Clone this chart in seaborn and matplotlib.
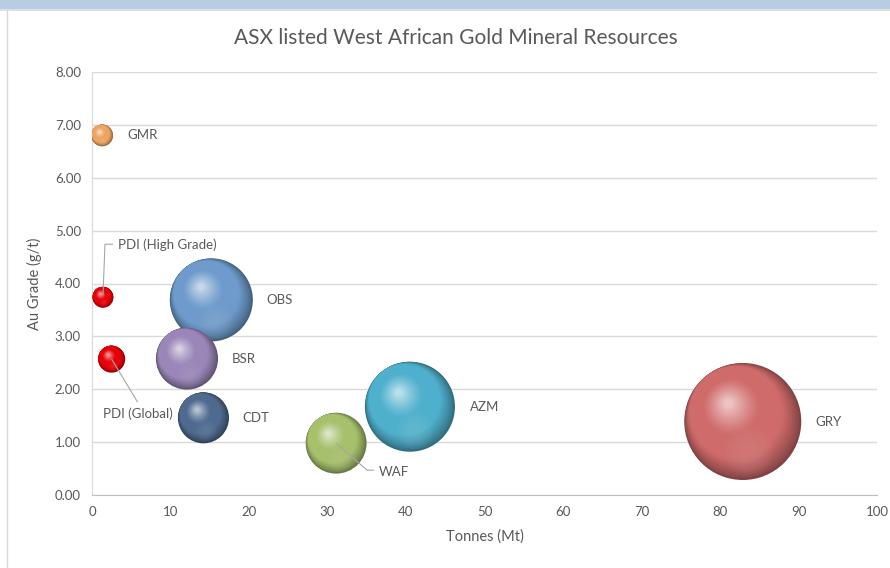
import numpy as np
import pandas as pd
import matplotlib
matplotlib.use("Agg")
import matplotlib.pyplot as plt
from matplotlib import transforms, colors as mcolors
from matplotlib.lines import Line2D
from matplotlib.patches import Rectangle
import seaborn as sns

# ---------------- data ----------------
companies = ["GMR", "PDI (High Grade)", "PDI (Global)", "OBS", "BSR", "CDT", "WAF", "AZM", "GRY"]
tonnes_mt = [1.3, 1.4, 2.5, 15.2, 12.1, 14.2, 31.1, 40.5, 82.9]
grade_gt = [6.80, 3.74, 2.57, 3.69, 2.58, 1.46, 0.98, 1.67, 1.39]
ounces_moz = [0.13, 0.12, 0.20, 1.88, 1.05, 0.71, 1.01, 2.21, 3.73]

title = "ASX listed West African Gold Mineral Resources"
x_label = "Tonnes (Mt)"
y_label = "Au Grade (g/t)"

# ---------------- styles ----------------
color_map = {"GMR": "#eea35f", "PDI (High Grade)": "#e60008", "PDI (Global)": "#e60008",
             "OBS": "#6e9bcb", "BSR": "#9a86b8", "CDT": "#4e6a8e",
             "WAF": "#a6c06c", "AZM": "#4fb0cd", "GRY": "#cf6b6a"}
# label offsets (pixels, image coordinates: y down) relative to bubble centre
label_offsets = {"GMR": (25, 0), "PDI (High Grade)": (15, -53), "PDI (Global)": (-9, 55),
                 "OBS": (55, 0), "BSR": (45, 0), "CDT": (39, 0), "WAF": (43, 29),
                 "AZM": (60, 0), "GRY": (73, 0)}
leaders = {"PDI (High Grade)": [(0, -2), (2, -53), (10, -53)],
           "PDI (Global)": [(0, 0), (26, 43)],
           "WAF": [(0, 0), (31, 27), (38, 27)]}

TEXT = "#595959"
GRID = "#d9d9d9"

df = pd.DataFrame({"Company": companies, "Tonnes": tonnes_mt,
                   "Grade": grade_gt, "Moz": ounces_moz})

sns.set_style("white")
plt.rcParams["font.family"] = ["Lato", "DejaVu Sans"]

W, H = 890, 568
fig = plt.figure(figsize=(W / 100, H / 100), dpi=100)

# top banner and chart border
fig.patches.append(Rectangle((0, 1 - 9 / H), 1, 9 / H, transform=fig.transFigure,
                             facecolor="#b8cce4", edgecolor="none", zorder=0))
fig.lines.append(Line2D([0, 1], [1 - 10 / H, 1 - 10 / H], transform=fig.transFigure,
                        color="#d9d9d9", lw=1.2))
fig.lines.append(Line2D([6.5 / W, 6.5 / W], [0, 1 - 10 / H], transform=fig.transFigure,
                        color="#d9d9d9", lw=1.0))

ax = fig.add_axes([92 / W, 1 - 495 / H, (877 - 92) / W, (495 - 72) / H])

max_diam_pt = 117 * 0.72
smax = max_diam_pt ** 2
mmax = max(ounces_moz)

darker = {k: tuple(np.array(mcolors.to_rgb(v)) * 0.62) for k, v in color_map.items()}
sns.scatterplot(data=df, x="Tonnes", y="Grade", hue="Company", palette=darker,
                size="Moz", sizes=(0, smax), size_norm=(0, mmax),
                edgecolor="none", linewidth=0, legend=False, ax=ax, zorder=3)

ax.set_xlim(0, 100)
ax.set_ylim(0, 8)

def ptrans(x, y):
    return fig.dpi_scale_trans + transforms.ScaledTranslation(x, y, ax.transData)

# sphere shading layers
N = 40
direction = np.array([-0.62, 0.78])
for i, row in df.iterrows():
    mid = np.array(mcolors.to_rgb(color_map[row.Company]))
    dark = mid * 0.62
    light = mid + (1 - mid) * 0.6
    s = smax * row.Moz / mmax
    r_pt = np.sqrt(s) / 2
    r_in = r_pt / 72
    z = 4 + i * 0.01
    tr = ptrans(row.Tonnes, row.Grade)
    for k in range(1, N):
        t = k / (N - 1)
        f = 1 - 0.93 * t
        if f > 0.72:
            d = (1 - f) * 0.95
        else:
            d = 0.266 + (0.72 - f) / 0.65 * 0.14
        if f > 0.8:
            c = dark + (mid - dark) * ((1 - f) / 0.2) ** 0.8
        elif f > 0.5:
            c = mid
        else:
            c = mid + (light - mid) * ((0.5 - f) / 0.43) ** 1.2
        ox, oy = direction * d * r_in
        ax.scatter([ox], [oy], s=(2 * f * r_pt) ** 2, color=[np.clip(c, 0, 1)],
                   edgecolor="none", transform=tr, zorder=z)
    # soft bottom reflection
    for ff in np.linspace(0.42, 0.12, 8):
        ax.scatter([0.1 * r_in], [-0.52 * r_in], s=(2 * ff * r_pt) ** 2,
                   color=[np.clip(mid + (1 - mid) * 0.3, 0, 1)], alpha=0.05,
                   edgecolor="none", transform=tr, zorder=z + 0.001)

# labels and leader lines
for i, row in df.iterrows():
    dx, dy = label_offsets[row.Company]
    tr = ptrans(row.Tonnes, row.Grade)
    ax.text(dx / 100, -dy / 100, row.Company, transform=tr, ha="left", va="center",
            fontsize=9.5, color=TEXT, zorder=10)
    if row.Company in leaders:
        pts = np.array(leaders[row.Company], dtype=float)
        ax.plot(pts[:, 0] / 100, -pts[:, 1] / 100, color="#a6a6a6", lw=0.8,
                transform=tr, zorder=9, solid_capstyle="butt")

# axes styling
ax.set_yticks(np.arange(0, 9, 1))
ax.set_yticklabels([f"{v:.2f}" for v in np.arange(0, 9, 1)])
ax.set_xticks(np.arange(0, 101, 10))
ax.yaxis.grid(True, color=GRID, lw=1.0, zorder=0)
ax.xaxis.grid(False)
ax.set_axisbelow(True)
for side in ["top", "right"]:
    ax.spines[side].set_visible(False)
ax.spines["left"].set_color("#d9d9d9")
ax.spines["bottom"].set_color("#bfbfbf")
ax.tick_params(axis="both", length=0, labelsize=9.5, labelcolor=TEXT, pad=8)
ax.set_xlabel(x_label, fontsize=10.5, color=TEXT, labelpad=8)
ax.set_ylabel(y_label, fontsize=10.5, color=TEXT, labelpad=9)
ax.set_facecolor("white")

fig.text(456 / W, 1 - 38 / H, title, ha="center", va="center", fontsize=15, color=TEXT)

fig.savefig("out.png", dpi=100)
